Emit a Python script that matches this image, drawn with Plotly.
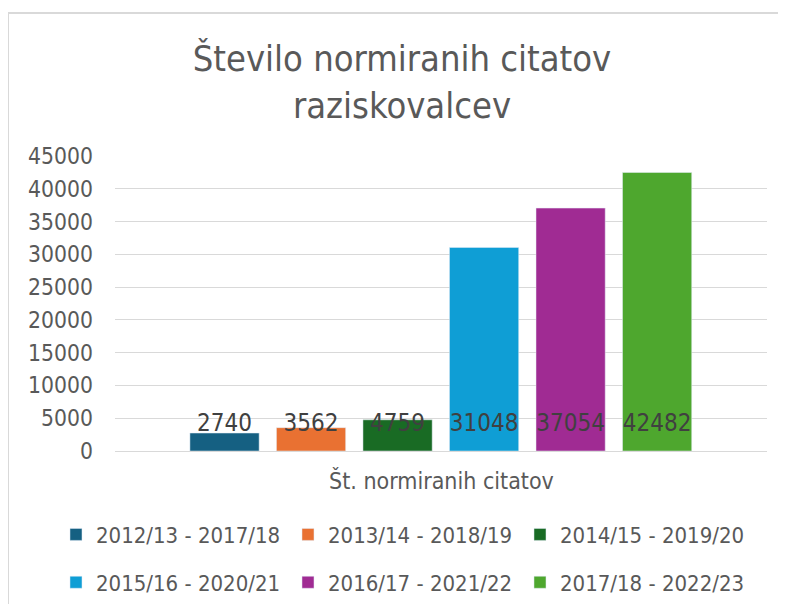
"""Število normiranih citatov raziskovalcev - stolpčni graf."""

import plotly.graph_objects as go

periods = ["2012/13 - 2017/18", "2013/14 - 2018/19", "2014/15 - 2019/20",
           "2015/16 - 2020/21", "2016/17 - 2021/22", "2017/18 - 2022/23"]
citations = [2740, 3562, 4759, 31048, 37054, 42482]
colors = ["#156082", "#E97132", "#196B24", "#0F9ED5", "#A02B93", "#4EA72E"]
category = "Št. normiranih citatov"
title = "Število normiranih citatov<br>raziskovalcev"

FONT = "DejaVu Sans Condensed, Liberation Sans Narrow, sans-serif"
GREY = "#595959"
LABEL_Y = 3900

fig = go.Figure()
for i, (name, val, col) in enumerate(zip(periods, citations, colors)):
    fig.add_trace(go.Bar(
        x=[i], y=[val], name=name, marker_color=col, width=0.8,
        legend="legend" if i < 3 else "legend2",
    ))

fig.add_trace(go.Scatter(
    x=list(range(len(citations))), y=[LABEL_Y] * len(citations),
    text=[str(v) for v in citations], mode="text",
    textfont=dict(family=FONT, size=24, color="#404040"),
    showlegend=False, hoverinfo="skip", cliponaxis=False,
))

legend_style = dict(orientation="h", xanchor="left", yanchor="middle",
                    font=dict(family=FONT, size=22, color=GREY),
                    entrywidth=187, bgcolor="rgba(0,0,0,0)")

# page body has an 8px margin, so the figure sits 8px right/down
fig.update_layout(
    width=786, height=604,
    margin=dict(l=107, r=27, t=148, b=161, autoexpand=False),
    paper_bgcolor="white", plot_bgcolor="white",
    barmode="overlay",
    title=dict(text=title, x=394 / 786, xanchor="center", y=1 - 63 / 604, yanchor="top",
               font=dict(family=FONT, size=36, color=GREY)),
    xaxis=dict(range=[-1.266, 6.27], showticklabels=False, showgrid=False,
               zeroline=False, showline=False, fixedrange=True, automargin=False),
    yaxis=dict(range=[0, 45000], dtick=5000, tickformat="d", showgrid=True,
               gridcolor="#D9D9D9", gridwidth=1, zeroline=True,
               zerolinecolor="#D9D9D9", zerolinewidth=1,
               tickfont=dict(family=FONT, size=22.7, color=GREY),
               ticks="", ticklabelstandoff=21, fixedrange=True, automargin=False),
    legend=dict(x=-0.0905, y=-0.2834, **legend_style),
    legend2=dict(x=-0.0905, y=-0.4456, **legend_style),
    annotations=[dict(text=category, xref="paper", yref="paper", x=0.5, y=0,
                      yanchor="middle", yshift=-29, showarrow=False,
                      font=dict(family=FONT, size=23, color=GREY))],
    shapes=[dict(type="rect", xref="paper", yref="paper",
                 x0=-107 / 652, x1=700 / 652, y0=-180 / 295, y1=1 + 143 / 295,
                 line=dict(color="#D9D9D9", width=2), fillcolor="rgba(0,0,0,0)",
                 layer="below")],
    showlegend=True,
)

fig.write_html("out.html")
